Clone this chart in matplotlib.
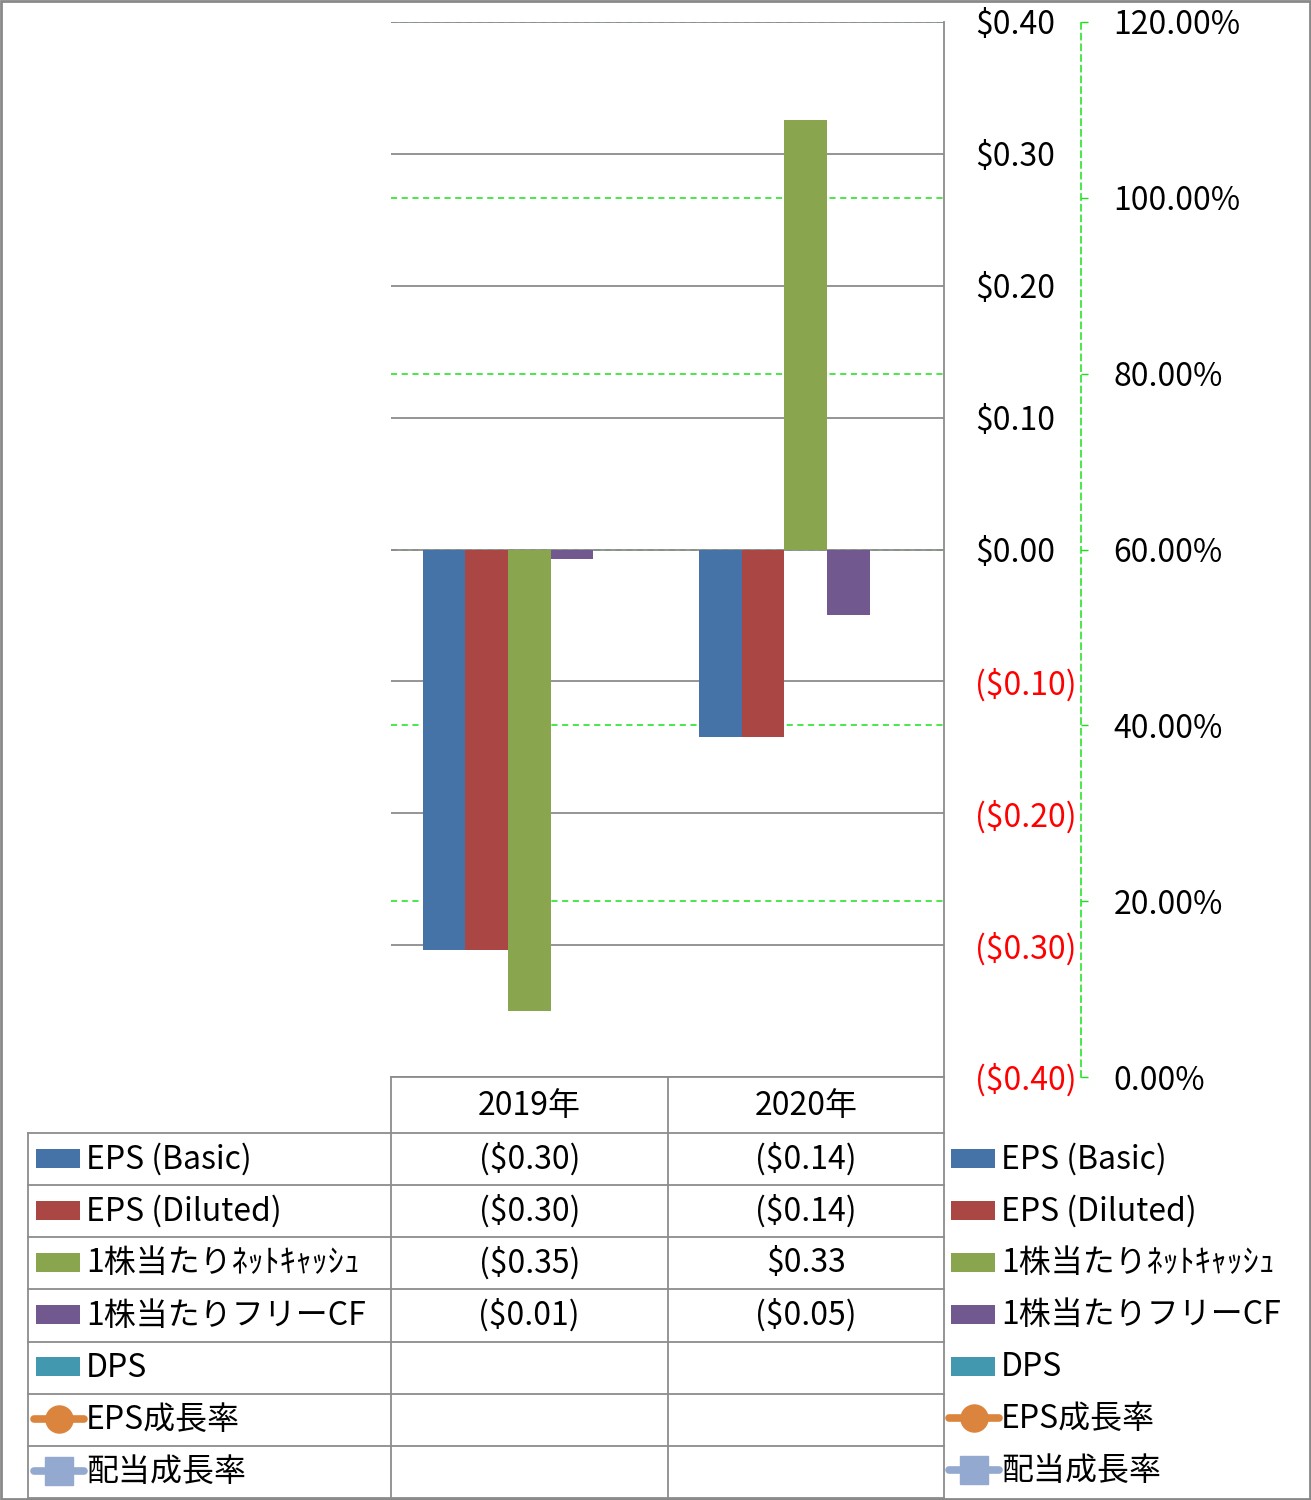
import matplotlib
matplotlib.use('Agg')
import matplotlib.pyplot as plt
from matplotlib.patches import Rectangle
import numpy as np

plt.rcParams['font.family'] = ['Noto Sans CJK JP', 'DejaVu Sans']

# Data
years = ['2019年', '2020年']
series_names = ['EPS (Basic)', 'EPS (Diluted)', '1株当たりﾈｯﾄｷｬｯｼｭ',
                '1株当たりフリーCF', 'DPS', 'EPS成長率', '配当成長率']
eps_basic = [-0.304, -0.142]
eps_diluted = [-0.304, -0.142]
net_cash = [-0.350, 0.326]
free_cf = [-0.007, -0.050]
dps = [None, None]
eps_growth = [None, None]
div_growth = [None, None]

bar_series = [eps_basic, eps_diluted, net_cash, free_cf, dps]
line_series = [eps_growth, div_growth]
colors = ['#4572A7', '#AA4643', '#89A54E', '#71588F', '#4198AF', '#DB843D', '#93A9CF']

money_ticks = [-0.4, -0.3, -0.2, -0.1, 0.0, 0.1, 0.2, 0.3, 0.4]
pct_ticks = [0.0, 0.2, 0.4, 0.6, 0.8, 1.0, 1.2]


def money(v):
    if v < -1e-9:
        return '(${:.2f})'.format(-v)
    return '${:.2f}'.format(abs(v))


W, H = 1311, 1500
fig = plt.figure(figsize=(W / 100, H / 100), dpi=100)

# plot area in pixels
px_l, px_r, px_t, px_b = 391, 944, 22, 1077
ax = fig.add_axes([px_l / W, 1 - px_b / H, (px_r - px_l) / W, (px_b - px_t) / H])
ax2 = ax.twinx()
ax.set_zorder(2)
ax.patch.set_visible(False)
ax2.set_zorder(1)

green = '#19E019'
grid_gray = '#8C8C8C'
fs = 23

# bars
n_bars = len(bar_series)
bw = 1 / (n_bars + 1.5)
x = np.arange(len(years))
for i, s in enumerate(bar_series):
    vals = [np.nan if v is None else v for v in s]
    ax.bar(x + (i - (n_bars - 1) / 2) * bw, vals, width=bw, color=colors[i], zorder=3)

ax.set_xlim(-0.5, len(years) - 0.5)
ax.set_ylim(-0.4, 0.4)
ax.set_xticks([])
ax.set_yticks(money_ticks)
ax.set_yticklabels([money(v) for v in money_ticks])
ax.yaxis.tick_right()
ax.tick_params(axis='y', length=0, pad=22.5, labelsize=fs)
for t, v in zip(ax.yaxis.get_major_ticks(), money_ticks):
    if v < -1e-9:
        t.label2.set_color('#FF0000')
ax.yaxis.grid(True, color=grid_gray, lw=1.3, zorder=1)
ax.set_axisbelow(True)
for sp in ['left', 'top', 'bottom']:
    ax.spines[sp].set_visible(False)
ax.spines['right'].set_color(grid_gray)
ax.spines['right'].set_linewidth(1.3)

# secondary axis
ax2.set_ylim(0, 1.2)
ax2.set_yticks(pct_ticks)
ax2.set_yticklabels(['{:.2f}%'.format(v * 100) for v in pct_ticks])
ax2.yaxis.grid(True, color=green, lw=1.1, linestyle=(0, (4, 3)))
ax2.tick_params(axis='y', direction='out', length=5, width=1, color=green,
                pad=18.5, labelsize=fs)
for sp in ['left', 'top', 'bottom']:
    ax2.spines[sp].set_visible(False)
ax2.spines['right'].set_position(('axes', (1081 - px_l) / (px_r - px_l)))
ax2.spines['right'].set_color(green)
ax2.spines['right'].set_linestyle((0, (4, 3)))
ax2.spines['right'].set_linewidth(1.1)

# overlay for data table, legend and frame
ov = fig.add_axes([0, 0, 1, 1])
ov.set_xlim(0, W)
ov.set_ylim(H, 0)
ov.axis('off')
ov.set_zorder(3)

col_edges = [px_l + i * (px_r - px_l) / len(years) for i in range(len(years) + 1)]
head_t, head_b, tab_b = px_b, 1133, 1498
row_h = (tab_b - head_b) / len(series_names)
row_edges = [head_b + i * row_h for i in range(len(series_names) + 1)]
tab_l = 28
lc = grid_gray
lw = 1.3

ov.plot([px_l, px_r], [head_t, head_t], color=lc, lw=lw)
for yy in row_edges:
    ov.plot([tab_l, px_r], [yy, yy], color=lc, lw=lw)
for xx in col_edges:
    ov.plot([xx, xx], [head_t, tab_b], color=lc, lw=lw)
ov.plot([tab_l, tab_l], [head_b, tab_b], color=lc, lw=lw)

for j, yr in enumerate(years):
    ov.text((col_edges[j] + col_edges[j + 1]) / 2, (head_t + head_b) / 2 + 1, yr,
            ha='center', va='center', fontsize=fs)


def draw_key(x0, yc, i):
    if i < len(bar_series):
        ov.add_patch(Rectangle((x0, yc - 9.5), 44, 19, color=colors[i], lw=0))
    else:
        ov.plot([x0 - 2, x0 + 48], [yc, yc], color=colors[i], lw=5.5,
                solid_capstyle='round')
        mk = 'o' if i == len(bar_series) else 's'
        ov.plot([x0 + 23], [yc], marker=mk, ms=19.5, color=colors[i],
                markeredgecolor=colors[i])


all_series = bar_series + line_series
for i, name in enumerate(series_names):
    yc = (row_edges[i] + row_edges[i + 1]) / 2
    draw_key(36, yc - 1, i)
    ov.text(86, yc, name, ha='left', va='center', fontsize=fs)
    for j in range(len(years)):
        v = all_series[i][j]
        if v is not None:
            ov.text((col_edges[j] + col_edges[j + 1]) / 2, yc, money(v),
                    ha='center', va='center', fontsize=fs)

# right legend
for i, name in enumerate(series_names):
    yc = 1158 + i * 52
    draw_key(951, yc, i)
    ov.text(1001, yc + 1, name, ha='left', va='center', fontsize=fs)

# outer frame
ov.add_patch(Rectangle((1, 1), W - 2, H - 2, fill=False, edgecolor='#898989', lw=2))

fig.savefig('out.png', dpi=100)
